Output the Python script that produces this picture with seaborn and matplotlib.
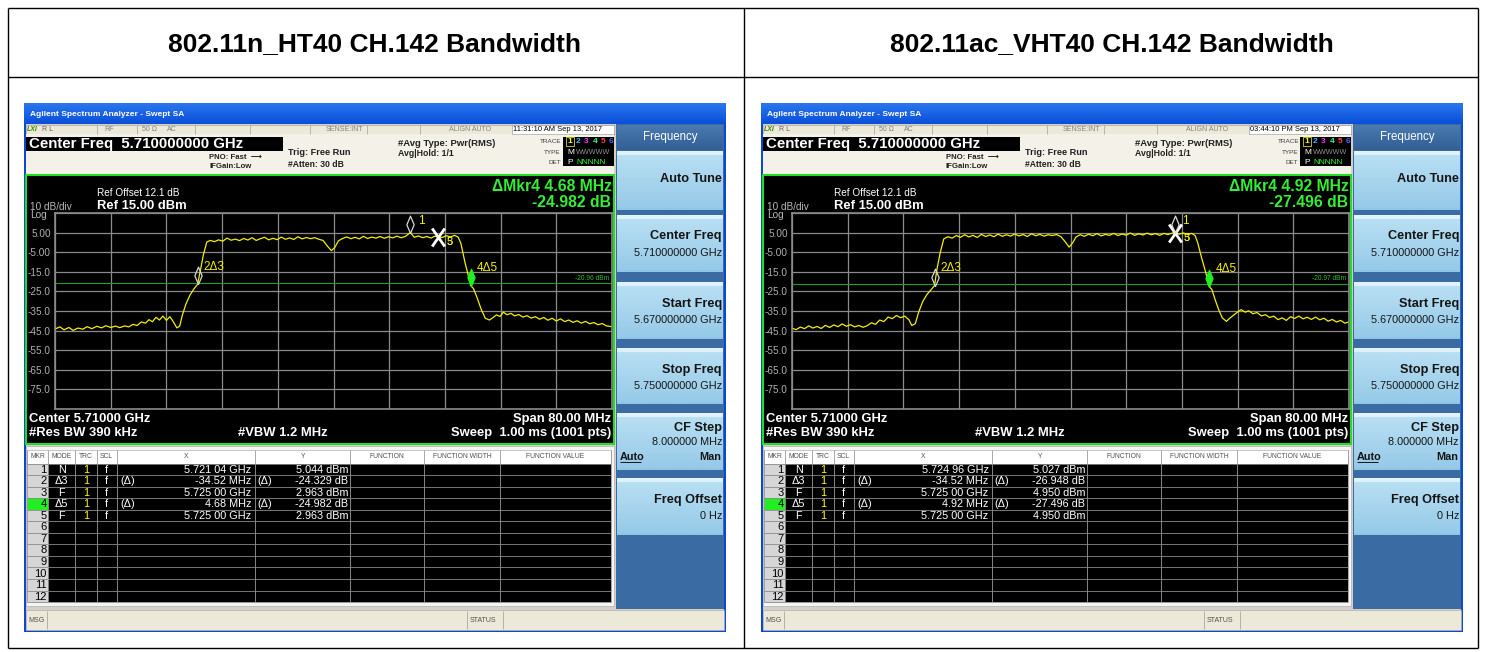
import numpy as np
import matplotlib
matplotlib.use("Agg")
import matplotlib.pyplot as plt
import seaborn as sns
from matplotlib.patches import Rectangle
from matplotlib.path import Path

plt.rcParams['font.family'] = ['Liberation Sans', 'DejaVu Sans']

# ---------------- data ----------------
panel_titles = ["802.11n_HT40 CH.142 Bandwidth", "802.11ac_VHT40 CH.142 Bandwidth"]
timestamps = ["11:31:10 AM Sep 13, 2017", "03:44:10 PM Sep 13, 2017"]

ht40_freq = [5670.0, 5670.7, 5671.3, 5672.0, 5672.6, 5673.3, 5674.0, 5674.6, 5675.3, 5676.0,
             5676.7, 5677.3, 5678.0, 5678.7, 5679.3, 5680.0, 5680.6, 5681.2, 5681.8, 5682.4,
             5683.0, 5683.5, 5684.0, 5684.5, 5685.0, 5685.5, 5686.0, 5686.5, 5687.0, 5687.5,
             5687.9, 5688.3, 5688.8, 5689.4, 5690.0, 5690.48, 5690.9, 5691.3, 5691.8, 5692.3,
             5692.9, 5693.5, 5694.1, 5694.7, 5695.3, 5695.9, 5696.5, 5697.1, 5697.7, 5698.3,
             5698.9, 5699.5, 5700.1, 5700.7, 5701.3, 5701.9, 5702.5, 5703.1, 5703.7, 5704.3,
             5704.9, 5705.5, 5706.1, 5706.7, 5707.3, 5707.9, 5708.5, 5709.1, 5709.7, 5710.2,
             5710.7, 5711.3, 5711.9, 5712.5, 5713.1, 5713.7, 5714.3, 5714.9, 5715.5, 5716.1,
             5716.7, 5717.3, 5717.9, 5718.5, 5719.1, 5719.7, 5720.3, 5721.04, 5721.6, 5722.2,
             5722.8, 5723.4, 5724.0, 5724.5, 5725.0, 5725.6, 5726.2, 5726.8, 5727.4, 5727.9,
             5728.3, 5728.9, 5729.3, 5729.68, 5730.1, 5730.6, 5731.2, 5731.8, 5732.4, 5732.9,
             5733.4, 5733.9, 5734.4, 5734.9, 5735.5, 5736.0, 5736.6, 5737.2, 5737.8, 5738.4,
             5739.0, 5739.6, 5740.2, 5740.8, 5741.4, 5742.0, 5742.6, 5743.2, 5743.8, 5744.4,
             5745.0, 5745.6, 5746.2, 5746.8, 5747.4, 5748.0, 5748.6, 5749.2, 5750.0]
ht40_level = [-44.2, -43.1, -44.6, -43.4, -44.9, -43.7, -44.3, -43.0, -44.0, -42.8,
              -43.6, -42.5, -43.4, -42.7, -43.5, -42.6, -43.1, -41.8, -42.4, -40.6,
              -41.2, -39.4, -40.5, -38.2, -39.6, -37.6, -39.8, -37.9, -40.5, -43.6,
              -42.8, -37.0, -31.5, -26.8, -23.5, -21.37, -14.0, -6.5, 0.2, 1.0,
              0.4, 1.3, 0.6, 2.2, 1.1, 1.7, 0.9, 2.0, 1.2, 2.4,
              1.0, 1.9, 2.6, 1.3, 2.1, 1.4, 2.7, 1.6, 2.3, 1.5,
              2.9, 1.8, 2.5, 1.9, 2.4, 1.6, 1.0, -1.8, -4.2, -2.5,
              0.8, 2.0, 2.8, 1.9, 2.6, 1.8, 3.1, 2.0, 2.7, 2.2,
              3.0, 2.1, 2.9, 2.3, 3.2, 2.4, 3.0, 5.044, 2.6, 3.3,
              2.4, 3.0, 2.2, 3.1, 2.963, 2.5, 3.4, 2.8, 3.6, 2.7,
              -0.5, -10.5, -16.0, -22.02, -23.5, -28.0, -34.0, -38.7, -39.6, -38.4,
              -37.0, -37.8, -35.6, -36.9, -36.2, -37.5, -36.8, -38.1, -37.4, -38.6,
              -37.9, -39.2, -38.3, -39.7, -38.7, -40.1, -39.0, -40.4, -39.6, -40.8,
              -40.0, -41.2, -40.3, -41.5, -40.9, -42.0, -41.4, -42.6, -43.0]

vht40_freq = [5670.0, 5670.6, 5671.2, 5671.8, 5672.4, 5673.0, 5673.6, 5674.2, 5674.8, 5675.4,
              5676.0, 5676.6, 5677.2, 5677.8, 5678.4, 5679.0, 5679.6, 5680.2, 5680.8, 5681.4,
              5682.0, 5682.6, 5683.2, 5683.8, 5684.4, 5685.0, 5685.6, 5686.2, 5686.8, 5687.2,
              5687.7, 5688.2, 5688.8, 5689.4, 5690.0, 5690.48, 5690.8, 5691.3, 5691.8, 5692.4,
              5693.0, 5693.6, 5694.2, 5694.8, 5695.4, 5696.0, 5696.6, 5697.2, 5697.8, 5698.4,
              5699.0, 5699.6, 5700.2, 5700.8, 5701.4, 5702.0, 5702.6, 5703.2, 5703.8, 5704.4,
              5705.0, 5705.6, 5706.2, 5706.8, 5707.4, 5708.0, 5708.6, 5709.2, 5709.8, 5710.3,
              5710.8, 5711.4, 5712.0, 5712.6, 5713.2, 5713.8, 5714.4, 5715.0, 5715.6, 5716.2,
              5716.8, 5717.4, 5718.0, 5718.6, 5719.2, 5719.8, 5720.4, 5721.0, 5721.6, 5722.2,
              5722.8, 5723.4, 5724.0, 5724.5, 5724.96, 5725.0, 5725.6, 5726.2, 5726.8, 5727.4,
              5727.9, 5728.3, 5728.8, 5729.4, 5729.92, 5730.3, 5730.8, 5731.3, 5731.8, 5732.4,
              5732.9, 5733.4, 5733.9, 5734.5, 5735.1, 5735.6, 5736.2, 5736.8, 5737.4, 5738.0,
              5738.6, 5739.2, 5739.8, 5740.4, 5741.0, 5741.6, 5742.2, 5742.8, 5743.4, 5744.0,
              5744.6, 5745.2, 5745.8, 5746.4, 5747.0, 5747.6, 5748.2, 5748.8, 5749.4, 5750.0]
vht40_level = [-43.8, -44.5, -43.2, -44.0, -42.6, -43.7, -42.9, -43.9, -42.3, -43.4,
               -42.1, -43.0, -41.6, -42.8, -42.0, -43.1, -42.4, -43.3, -42.5, -41.0,
               -41.8, -39.6, -40.4, -38.1, -38.9, -37.3, -38.4, -37.6, -39.5, -42.4,
               -41.5, -35.5, -30.0, -26.5, -24.0, -22.0, -14.0, -5.0, 1.8, 2.9,
               2.2, 3.5, 2.6, 3.9, 2.8, 3.6, 2.5, 4.1, 3.0, 3.8,
               2.9, 4.2, 3.1, 3.9, 3.2, 4.3, 3.3, 4.0, 3.0, 4.4,
               3.4, 4.1, 3.2, 3.9, 3.5, 4.0, 3.0, 0.5, -2.4, -0.3,
               2.8, 3.9, 3.1, 4.2, 3.4, 4.5, 3.3, 4.1, 3.6, 4.6,
               3.5, 4.3, 3.7, 4.8, 3.6, 4.4, 3.8, 4.7, 3.9, 4.5,
               3.6, 4.6, 4.0, 4.6, 5.027, 4.95, 4.2, 4.8, 4.0, 4.6,
               3.5, -0.5, -7.5, -15.0, -22.55, -24.0, -29.5, -34.5, -38.5, -40.3,
               -38.6, -37.2, -35.8, -34.3, -35.6, -34.9, -36.4, -35.8, -37.5, -36.9,
               -38.3, -37.6, -39.4, -38.5, -39.8, -37.9, -38.8, -37.6, -39.0, -38.2,
               -39.3, -38.1, -39.5, -38.7, -40.2, -39.3, -40.6, -39.8, -41.2, -40.6]

# marker table (text) and marker positions (MHz, dBm)
mkr_modes = ["N", "Δ3", "F", "Δ5", "F"]
ht40_mkr_x = ["5.721 04 GHz", "-34.52 MHz", "5.725 00 GHz", "4.68 MHz", "5.725 00 GHz"]
ht40_mkr_y = ["5.044 dBm", "-24.329 dB", "2.963 dBm", "-24.982 dB", "2.963 dBm"]
ht40_mkr_freq = [5721.04, 5690.48, 5725.00, 5729.68, 5725.00]
ht40_mkr_level = [5.044, -21.37, 2.963, -22.02, 2.963]
vht40_mkr_x = ["5.724 96 GHz", "-34.52 MHz", "5.725 00 GHz", "4.92 MHz", "5.725 00 GHz"]
vht40_mkr_y = ["5.027 dBm", "-26.948 dB", "4.950 dBm", "-27.496 dB", "4.950 dBm"]
vht40_mkr_freq = [5724.96, 5690.48, 5725.00, 5729.92, 5725.00]
vht40_mkr_level = [5.027, -22.0, 4.950, -22.55, 4.950]
delta_readout = [("ΔMkr4 4.68 MHz", "-24.982 dB"), ("ΔMkr4 4.92 MHz", "-27.496 dB")]
threshold = [-20.96, -20.97]

softkey_titles = ["Auto Tune", "Center Freq", "Start Freq", "Stop Freq", "CF Step", "Freq Offset"]
softkey_values = ["", "5.710000000 GHz", "5.670000000 GHz", "5.750000000 GHz", "8.000000 MHz", "0 Hz"]
y_tick_labels = ["", "5.00", "-5.00", "-15.0", "-25.0", "-35.0", "-45.0", "-55.0", "-65.0", "-75.0", ""]
table_headers = ["MKR", "MODE", "TRC", "SCL", "X", "Y", "FUNCTION", "FUNCTION WIDTH", "FUNCTION VALUE"]

# ---------------- figure ----------------
W, H = 1486, 652
fig = plt.figure(figsize=(W / 100, H / 100), dpi=100)
fig.patch.set_facecolor('white')
bg = fig.add_axes([0, 0, 1, 1])
bg.axis('off')


def rect(x0, y0, x1, y1, fc, ec='none', lw=0, z=1):
    bg.add_patch(Rectangle((x0, y0), x1 - x0, y1 - y0, facecolor=fc, edgecolor=ec,
                           linewidth=lw, zorder=z))


def txt(x, y, s, size=7, color='black', ha='left', va='center', weight='normal', z=5, **kw):
    bg.text(x, y, s, fontsize=size, color=color, ha=ha, va=va, fontweight=weight, zorder=z, **kw)


def hl(x0, x1, y, color, lw=0.8, z=3):
    bg.plot([x0, x1], [y, y], color=color, lw=lw, zorder=z, solid_capstyle='butt')


def vl(x, y0, y1, color, lw=0.8, z=3):
    bg.plot([x, x], [y0, y1], color=color, lw=lw, zorder=z, solid_capstyle='butt')


def grad(x0, y0, x1, y1, c_top, c_bot, z=2):
    ct = np.array(matplotlib.colors.to_rgb(c_top))
    cb = np.array(matplotlib.colors.to_rgb(c_bot))
    t = np.linspace(0, 1, 32)[:, None]
    img = (ct[None, :] * (1 - t) + cb[None, :] * t)[:, None, :]
    bg.imshow(img, extent=(x0, x1, y1, y0), aspect='auto', zorder=z, interpolation='bilinear')


# outer table
lk = 'black'
hl(8, 1478, 8, lk, 1.0); hl(8, 1478, 77, lk, 1.0); hl(8, 1478, 648, lk, 1.0)
vl(8, 8, 648, lk, 1.0); vl(744, 8, 648, lk, 1.0); vl(1478, 8, 648, lk, 1.0)

diamond = [(0, 0), (0.42, 1), (0, 2), (-0.42, 1), (0, 0)]
xmark = Path([(-0.35, -0.5), (0.35, 0.5), (-0.35, 0.5), (0.35, -0.5)],
             [Path.MOVETO, Path.LINETO, Path.MOVETO, Path.LINETO])

panels = [
    (0, ht40_freq, ht40_level, ht40_mkr_x, ht40_mkr_y, ht40_mkr_freq, ht40_mkr_level),
    (737, vht40_freq, vht40_level, vht40_mkr_x, vht40_mkr_y, vht40_mkr_freq, vht40_mkr_level),
]

for p, (ox, fq, lv, mx, my, mf, ml) in enumerate(panels):
    # title
    txt(375 + ox, 44, panel_titles[p], 19, 'black', ha='center', weight='bold')

    # window frame
    rect(24 + ox, 103, 726 + ox, 632, '#0c48d0', z=1)
    grad(24 + ox, 103, 726 + ox, 124, '#2a76f0', '#0a4fd8', z=2)
    txt(30 + ox, 114, "Agilent Spectrum Analyzer - Swept SA", 6, 'white', weight='bold')
    rect(26 + ox, 124, 724 + ox, 630, '#d4d0c8', z=2)

    # status row
    rect(26 + ox, 125, 614 + ox, 133.5, '#ece9d8', ec='#a0a0a0', lw=0.4, z=3)
    txt(27 + ox, 129.3, "LXI", 5, '#3a8a00', weight='bold', style='italic')
    txt(42 + ox, 129.3, "R L", 5, '#606060')
    txt(104 + ox, 129.3, "RF", 5, '#808080')
    txt(142 + ox, 129.3, "50 Ω", 5, '#808080')
    txt(167 + ox, 129.3, "AC", 5, '#808080')
    txt(363 + ox, 129.3, "SENSE:INT", 5, '#808080', ha='right')
    txt(470 + ox, 129.3, "ALIGN AUTO", 5, '#808080', ha='center')
    for sx in [97, 137, 195, 250, 310, 367, 420]:
        vl(sx + ox, 125, 133.5, '#a0a0a0', 0.5, z=4)
    rect(512 + ox, 125, 614 + ox, 133.5, 'white', ec='#909090', lw=0.4, z=4)
    txt(513 + ox, 129.3, timestamps[p], 5.4, 'black')

    # info area
    rect(26 + ox, 133.5, 614 + ox, 174, '#f3f1e8', z=3)
    rect(26 + ox, 137, 283 + ox, 151, 'black', z=4)
    txt(29 + ox, 144.2, "Center Freq  5.710000000 GHz", 10.8, 'white', weight='bold')
    txt(209 + ox, 157.5, "PNO: Fast  ⟶", 5.6, '#202020', weight='bold')
    txt(209 + ox, 167, "IFGain:Low", 5.6, '#202020', weight='bold')
    txt(288 + ox, 152.5, "Trig: Free Run", 6.6, '#202020', weight='bold')
    txt(288 + ox, 164.5, "#Atten: 30 dB", 6.2, '#202020', weight='bold')
    txt(398 + ox, 143.3, "#Avg Type: Pwr(RMS)", 6.8, '#202020', weight='bold')
    txt(398 + ox, 154, "Avg|Hold: 1/1", 6.3, '#202020', weight='bold')
    txt(562 + ox, 141.5, "TRACE", 4.6, '#404040', ha='right')
    txt(561 + ox, 152.5, "TYPE", 4.6, '#404040', ha='right')
    txt(561 + ox, 162.3, "DET", 4.6, '#404040', ha='right')
    rect(563 + ox, 136.5, 613.5 + ox, 166, 'black', z=4)
    tcols = ['#ffff00', '#33bbff', '#ff33ff', '#33ff88', '#ff4444', '#4466ff']
    for k in range(6):
        txt(567.5 + 8.3 * k + ox, 141.8, str(k + 1), 6, tcols[k], weight='bold')
    rect(565.8 + ox, 137.3, 573.5 + ox, 146.2, 'none', ec='#ffff00', lw=0.5, z=6)
    txt(567 + ox, 152.3, "M", 6, 'white')
    txt(576 + ox, 152.3, "WWWWW", 5.2, '#909090')
    txt(567 + ox, 162, "P", 6, 'white')
    txt(576 + ox, 162, "NNNNN", 6, '#33ff33')

    # black screen
    rect(26 + ox, 174.5, 614 + ox, 444, 'black', ec='#22dd22', lw=1.5, z=3)
    txt(97 + ox, 192.5, "Ref Offset 12.1 dB", 7.2, 'white')
    txt(97 + ox, 205.8, "Ref 15.00 dBm", 9.4, 'white', weight='bold')
    txt(30 + ox, 207.5, "10 dB/div", 7.2, '#b8b8b8')
    txt(30 + ox, 215.5, "Log", 7.2, '#b8b8b8')
    txt(611.5 + ox, 186.5, delta_readout[p][0], 11.3, '#33ee33', ha='right', weight='bold')
    txt(611.5 + ox, 202.5, delta_readout[p][1], 11.3, '#33ee33', ha='right', weight='bold')
    txt(29 + ox, 418.5, "Center 5.71000 GHz", 9.4, 'white', weight='bold')
    txt(29 + ox, 433, "#Res BW 390 kHz", 9.4, 'white', weight='bold')
    txt(238 + ox, 433, "#VBW 1.2 MHz", 9.4, 'white', weight='bold')
    txt(611 + ox, 419, "Span 80.00 MHz", 9.4, 'white', ha='right', weight='bold')
    txt(611 + ox, 433.3, "Sweep  1.00 ms (1001 pts)", 9.4, 'white', ha='right', weight='bold')

    # marker table
    rect(26 + ox, 446, 614 + ox, 606, '#f4f4f4', ec='#b0b0b0', lw=0.5, z=3)
    top, rh = 463.5, 11.55
    bot = top + 12 * rh
    rect(27 + ox, 450, 611 + ox, top, 'white', ec='#a0a0a0', lw=0.4, z=4)
    rect(48.3 + ox, top, 611 + ox, bot, 'black', z=4)
    rect(27 + ox, top, 48.3 + ox, bot, '#d6d6d6', z=4)
    rect(27 + ox, top + 3 * rh, 48.3 + ox, top + 4 * rh, '#22ee22', z=4)
    cols = [27, 48.3, 75, 96.7, 116.7, 255, 350, 424.3, 500, 611]
    for cx in cols:
        vl(cx + ox, 450, bot, '#9a9a9a', 0.6, z=5)
    for r in range(13):
        hl(27 + ox, 611 + ox, top + r * rh, '#8a8a8a', 0.6, z=5)
    hcent = [37.7, 61.7, 86, 106.7, 186, 302.7, 387, 462, 555.5]
    for hx, hs in zip(hcent, table_headers):
        txt(hx + ox, 456.7, hs, 4.9, '#505050', ha='center')
    for r in range(12):
        yc = top + (r + 0.5) * rh + 0.3
        txt(46.5 + ox, yc, str(r + 1), 8, 'black', ha='right')
        if r < 5:
            txt(61.7 + ox, yc, mkr_modes[r], 7.8, 'white', ha='center')
            txt(86 + ox, yc, "1", 7.8, '#ffff00', ha='center')
            txt(106.5 + ox, yc, "f", 7.8, 'white', ha='center')
            if mkr_modes[r].startswith("Δ"):
                txt(120 + ox, yc, "(Δ)", 7.8, 'white')
                txt(257 + ox, yc, "(Δ)", 7.8, 'white')
            txt(251.5 + ox, yc, mx[r], 7.8, 'white', ha='right')
            txt(348.5 + ox, yc, my[r], 7.8, 'white', ha='right')

    # softkey panel
    rect(616 + ox, 124, 724 + ox, 609, '#3a6ba3', z=3)
    grad(617 + ox, 125, 723 + ox, 150, '#4a7ab0', '#325f96', z=4)
    txt(670 + ox, 137, "Frequency", 8.3, 'white', ha='center')
    btns = [(151, 210), (215, 272), (282, 339), (348, 404), (413, 470), (478, 535)]
    for b, (t0, t1) in enumerate(btns):
        grad(617 + ox, t0, 723 + ox, t1, '#e2f3fc', '#8fc5e6', z=4)
        grad(617 + ox, t0 + 4, 723 + ox, t1 - 2, '#b8dff3', '#96cae8', z=5)
        if b == 0:
            txt(722 + ox, 178.5, softkey_titles[b], 9.2, '#151515', ha='right', weight='bold', z=6)
        elif b == 4:
            txt(722 + ox, t0 + 15.5, softkey_titles[b], 9.2, '#151515', ha='right', weight='bold', z=6)
            txt(722 + ox, t0 + 29, softkey_values[b], 7.8, '#151515', ha='right', z=6)
            txt(620 + ox, t0 + 44, "Auto", 7.8, '#151515', weight='bold', z=6)
            hl(620 + ox, 641 + ox, t0 + 49, '#151515', 0.7, z=6)
            txt(721 + ox, t0 + 44, "Man", 7.8, '#151515', ha='right', weight='bold', z=6)
        else:
            txt(722 + ox, t0 + 21.5, softkey_titles[b], 9.2, '#151515', ha='right', weight='bold', z=6)
            txt(722 + ox, t0 + 38.3, softkey_values[b], 7.8, '#151515', ha='right', z=6)

    # msg bar
    rect(26 + ox, 610, 724 + ox, 629.5, '#ece9d8', ec='#b0b0b0', lw=0.5, z=3)
    txt(28 + ox, 620, "MSG", 5, '#505050')
    txt(470 + ox, 620, "STATUS", 5, '#505050')
    for sx in [47, 467, 503]:
        vl(sx + ox, 611, 629, '#a8a8a8', 0.6, z=4)

    # ---- spectrum trace axes ----
    gx0, gx1, gy0, gy1 = 55 + ox, 612 + ox, 213, 409
    ax = fig.add_axes([gx0 / W, 1 - gy1 / H, (gx1 - gx0) / W, (gy1 - gy0) / H])
    ax.set_facecolor('black')
    sns.lineplot(x=fq, y=lv, ax=ax, color='#f2f000', linewidth=0.9, estimator=None, sort=False)
    ax.set_xlim(5670, 5750)
    ax.set_ylim(-85, 15)
    ax.set_xticks(np.arange(5670, 5751, 8))
    ax.set_xticklabels([])
    ax.set_yticks(np.arange(15, -86, -10))
    ax.set_yticklabels(y_tick_labels)
    ax.tick_params(axis='both', length=0, labelsize=7.2, labelcolor='#b0b0b0', pad=3)
    ax.grid(True, color='#8a8a8a', linewidth=0.9)
    ax.set_axisbelow(True)
    for s in ax.spines.values():
        s.set_color('#8a8a8a')
        s.set_linewidth(1.2)
    ax.set_xlabel('')
    ax.set_ylabel('')

    # display line
    ax.axhline(threshold[p], color='#1f9f1f', linewidth=0.8, zorder=2)
    ax.text(5749.6, threshold[p] + 0.6, f"{threshold[p]:.2f} dBm", ha='right', va='bottom',
            fontsize=4.8, color='#2ec02e')

    # markers
    ax.plot([mf[2]], [ml[2]], marker=xmark, ms=13, mfc='none', mec='white', mew=2.0,
            ls='none', zorder=6)
    ax.annotate("3", (mf[2], ml[2]), xytext=(6.5, -4), textcoords='offset points',
                color='#f2f000', fontsize=8, va='center', ha='left', zorder=7)
    ax.annotate("5", (mf[4], ml[4]), xytext=(6.5, -4), textcoords='offset points',
                color='#f2f000', fontsize=8, va='center', ha='left', zorder=7)
    ax.plot([mf[0]], [ml[0]], marker=diamond, ms=25, mfc='none', mec='#d8d8d8', mew=0.9,
            ls='none', zorder=6)
    ax.annotate("1", (mf[0], ml[0]), xytext=(5.5, 8.5), textcoords='offset points',
                color='#f2f000', fontsize=8.5, va='center', ha='left', zorder=7)
    ax.plot([mf[1]], [ml[1]], marker=diamond, ms=25, mfc='none', mec='#d8d8d8', mew=0.9,
            ls='none', zorder=6)
    ax.annotate("2Δ3", (mf[1], ml[1]), xytext=(4.5, 12.5), textcoords='offset points',
                color='#f2f000', fontsize=8.5, va='center', ha='left', zorder=7)
    ax.plot([mf[3]], [ml[3]], marker=diamond, ms=25, mfc='#22ee22', mec='#22ee22', mew=0.8,
            ls='none', zorder=6)
    ax.annotate("4Δ5", (mf[3], ml[3]), xytext=(4.5, 13), textcoords='offset points',
                color='#f2f000', fontsize=8.5, va='center', ha='left', zorder=7)

bg.set_xlim(0, W)
bg.set_ylim(H, 0)

fig.savefig("out.png", dpi=100)
